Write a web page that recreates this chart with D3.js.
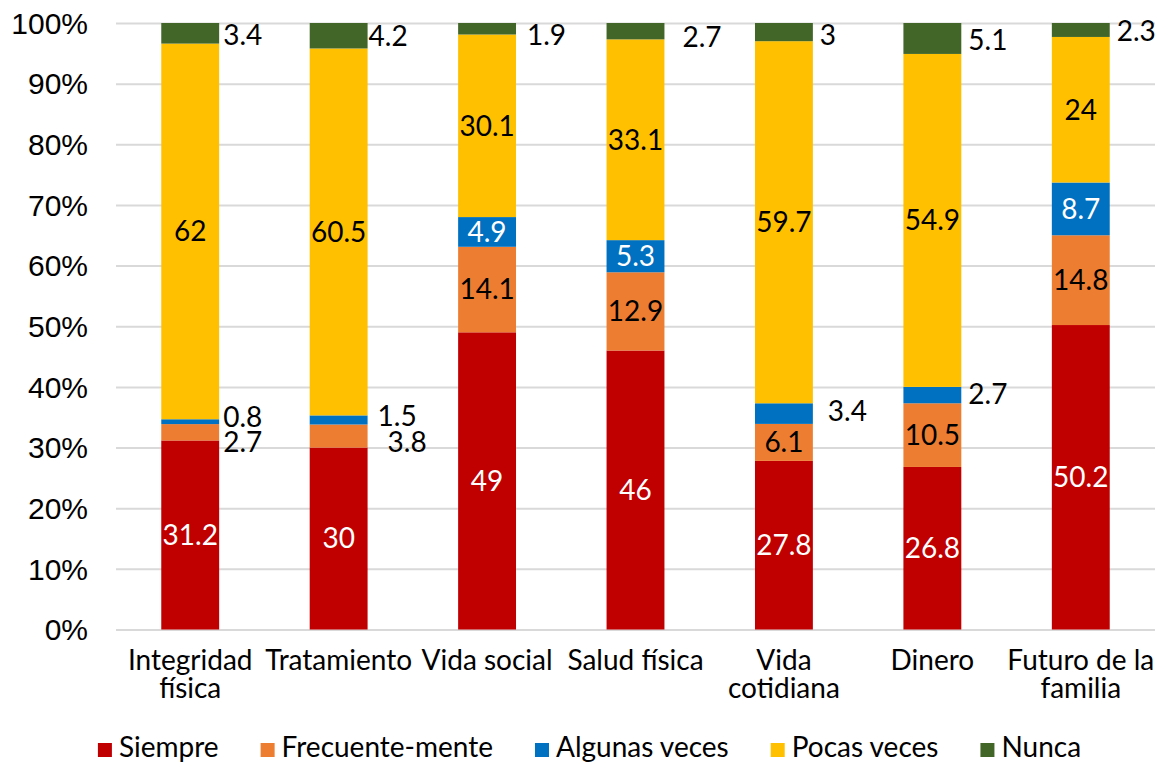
<!DOCTYPE html>
<html>
<head>
<meta charset="utf-8">
<script src="https://cdn.jsdelivr.net/npm/d3@7"></script>
<style>
  body { margin: 0; background: #fff; }
  svg { display: block; font-family: Lato, "Open Sans", sans-serif; }
  .tick text { font-size: 30px; fill: #000; }
</style>
</head>
<body>
<div id="chart"></div>
<script>
// categories and their (wrapped) axis labels
var categories = ["Integridad física", "Tratamiento", "Vida social", "Salud física", "Vida cotidiana", "Dinero", "Futuro de la familia"];
var categoryLines = [["Integridad", "física"], ["Tratamiento"], ["Vida social"], ["Salud física"], ["Vida", "cotidiana"], ["Dinero"], ["Futuro de la", "familia"]];

var series = ["Siempre", "Frecuente-mente", "Algunas veces", "Pocas veces", "Nunca"];
var colors = ["#C00000", "#ED7D31", "#0070C0", "#FFC000", "#426628"];
var labelColors = ["#fff", "#000", "#fff", "#000", "#000"];

var siempre    = [31.2, 30, 49, 46, 27.8, 26.8, 50.2];
var frecuente  = [2.7, 3.8, 14.1, 12.9, 6.1, 10.5, 14.8];
var algunas    = [0.8, 1.5, 4.9, 5.3, 3.4, 2.7, 8.7];
var pocas      = [62, 60.5, 30.1, 33.1, 59.7, 54.9, 24];
var nunca      = [3.4, 4.2, 1.9, 2.7, 3, 5.1, 2.3];

var yTicks = [0, 0.1, 0.2, 0.3, 0.4, 0.5, 0.6, 0.7, 0.8, 0.9, 1];

// hand moved data labels (Excel style), [dx, dy] offsets from default spot
var labelNudge = {
  "0|4": [0, 2], "0|2": [0, -4.5], "0|1": [0, 10],
  "1|4": [-3, 0], "1|2": [6, -3.5], "1|1": [16, 6],
  "2|4": [7, 6],
  "3|4": [14, 6.5],
  "4|4": [3, 3], "4|2": [11, -2],
  "5|4": [3, 1.5], "5|2": [3, -1],
  "6|4": [3, 1.5]
};

var W = 1161, H = 765;
var mLeft = 116, mRight = 1155, mTop = 23, mBottom = 629.5;

var rows = categories.map(function (c, i) {
  return { cat: c, i: i, 0: siempre[i], 1: frecuente[i], 2: algunas[i], 3: pocas[i], 4: nunca[i] };
});

var stack = d3.stack()
  .keys([0, 1, 2, 3, 4])
  .offset(d3.stackOffsetExpand);
var layers = stack(rows);

var x = d3.scaleBand()
  .domain(categories)
  .range([mLeft, mRight])
  .paddingInner(0.61)
  .paddingOuter(0.305);

var y = d3.scaleLinear().domain([0, 1]).range([mBottom, mTop]);

var svg = d3.select("#chart").append("svg")
  .attr("width", W)
  .attr("height", H);

// gridlines + y labels
var yAxis = svg.append("g")
  .attr("transform", "translate(" + mLeft + ",0)")
  .call(d3.axisLeft(y)
    .tickValues(yTicks)
    .tickSize(-(mRight - mLeft))
    .tickPadding(28)
    .tickFormat(d3.format(".0%")));
yAxis.select(".domain").remove();
yAxis.selectAll(".tick line").attr("stroke", "#D9D9D9").attr("stroke-width", 2);
yAxis.selectAll(".tick text").attr("dy", "0.34em");

// bars
var g = svg.append("g");
var layerG = g.selectAll(".layer")
  .data(layers)
  .enter().append("g")
  .attr("fill", function (d) { return colors[d.key]; });

layerG.selectAll("rect")
  .data(function (d) { return d; })
  .enter().append("rect")
  .attr("x", function (d) { return x(d.data.cat); })
  .attr("width", x.bandwidth())
  .attr("y", function (d) { return y(d[1]); })
  .attr("height", function (d) { return y(d[0]) - y(d[1]); });

// data labels
var labels = [];
layers.forEach(function (layer) {
  var k = layer.key;
  layer.forEach(function (d) {
    var v = d.data[k];
    var outside = (k === 4) || v < 4;
    var nudge = labelNudge[d.data.i + "|" + k] || [0, 0];
    var cx = outside ? x(d.data.cat) + x.bandwidth() + 4 : x(d.data.cat) + x.bandwidth() / 2;
    labels.push({
      text: String(v),
      x: cx + nudge[0],
      y: y((d[0] + d[1]) / 2) + nudge[1],
      anchor: outside ? "start" : "middle",
      color: outside ? "#000" : labelColors[k]
    });
  });
});

svg.append("g").selectAll("text")
  .data(labels)
  .enter().append("text")
  .attr("x", function (d) { return d.x; })
  .attr("y", function (d) { return d.y; })
  .attr("dy", "0.35em")
  .attr("text-anchor", function (d) { return d.anchor; })
  .attr("fill", function (d) { return d.color; })
  .style("font-size", "28px")
  .text(function (d) { return d.text; });

// category labels
var catG = svg.append("g");
categories.forEach(function (c, i) {
  var t = catG.append("text")
    .attr("x", x(c) + x.bandwidth() / 2)
    .attr("y", 670)
    .attr("text-anchor", "middle")
    .style("font-size", "28px")
    .attr("fill", "#000");
  categoryLines[i].forEach(function (line, j) {
    t.append("tspan")
      .attr("x", x(c) + x.bandwidth() / 2)
      .attr("dy", j === 0 ? 0 : 28)
      .text(line);
  });
});

// legend
var legend = svg.append("g");
var lx = 0, gap = 42;
series.forEach(function (s, i) {
  var item = legend.append("g").attr("transform", "translate(" + lx + ",0)");
  item.append("rect")
    .attr("x", 0).attr("y", 743)
    .attr("width", 14).attr("height", 14)
    .attr("fill", colors[i]);
  var t = item.append("text")
    .attr("x", 21).attr("y", 757)
    .style("font-size", "28px")
    .attr("fill", "#000")
    .text(s);
  lx += 21 + t.node().getComputedTextLength() + gap;
});
var legendW = lx - gap;
legend.attr("transform", "translate(" + (589.5 - legendW / 2) + ",0)");
</script>
</body>
</html>
